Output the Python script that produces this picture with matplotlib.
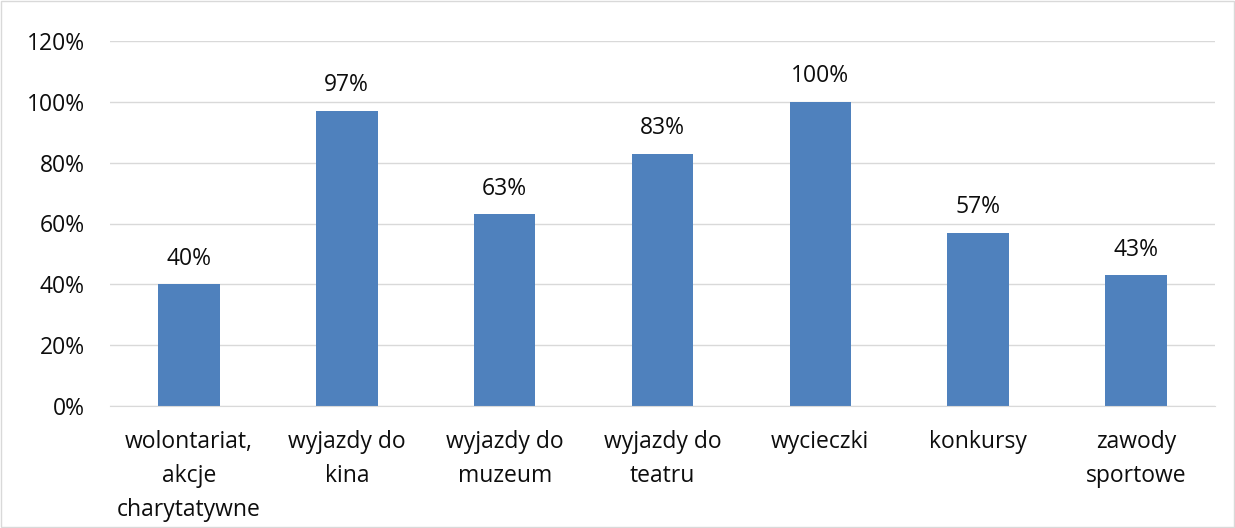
import matplotlib

matplotlib.use("Agg")

import matplotlib.pyplot as plt
from matplotlib.patches import Rectangle
from matplotlib.ticker import FuncFormatter, MultipleLocator

CATEGORIES = [
    "wolontariat,\nakcje\ncharytatywne",
    "wyjazdy do\nkina",
    "wyjazdy do\nmuzeum",
    "wyjazdy do\nteatru",
    "wycieczki",
    "konkursy",
    "zawody\nsportowe",
]
VALUES = [40, 97, 63, 83, 100, 57, 43]

BAR = "#4F81BD"
GRID = "#D9D9D9"
INK = "#0D0D0D"

plt.rcParams["font.family"] = ["Open Sans", "DejaVu Sans"]

fig = plt.figure(figsize=(12.35, 5.28), dpi=100, facecolor="white")
ax = fig.add_axes([110 / 1235, 1 - 406 / 528, 1105 / 1235, 365 / 528])

x = range(len(VALUES))
ax.bar(x, VALUES, width=0.39, color=BAR, zorder=3)
for xi, v in zip(x, VALUES):
    ax.annotate(f"{v}%", (xi, v), xytext=(0, 18.5), textcoords="offset points",
                ha="center", va="center", fontsize=16.5, color=INK)

ax.set_xlim(-0.5, len(VALUES) - 0.5)
ax.set_ylim(0, 120)
ax.yaxis.set_major_locator(MultipleLocator(20))
ax.yaxis.set_major_formatter(FuncFormatter(lambda v, _: f"{v:.0f}%"))
ax.grid(axis="y", color=GRID, lw=1, zorder=0)
ax.set_xticks(list(x))
ax.set_xticklabels(CATEGORIES, linespacing=1.55)
ax.tick_params(axis="both", length=0, labelsize=16.5, labelcolor=INK)
ax.tick_params(axis="x", pad=17.5)
ax.tick_params(axis="y", pad=18)
for side in ("top", "right", "left"):
    ax.spines[side].set_visible(False)
ax.spines["bottom"].set_color(GRID)
ax.spines["bottom"].set_zorder(4)

fig.patches.append(Rectangle((0.001, 0.002), 0.998, 0.996, transform=fig.transFigure,
                             fill=False, edgecolor=GRID, lw=1))

fig.savefig("out.png", dpi=100, facecolor="white")
